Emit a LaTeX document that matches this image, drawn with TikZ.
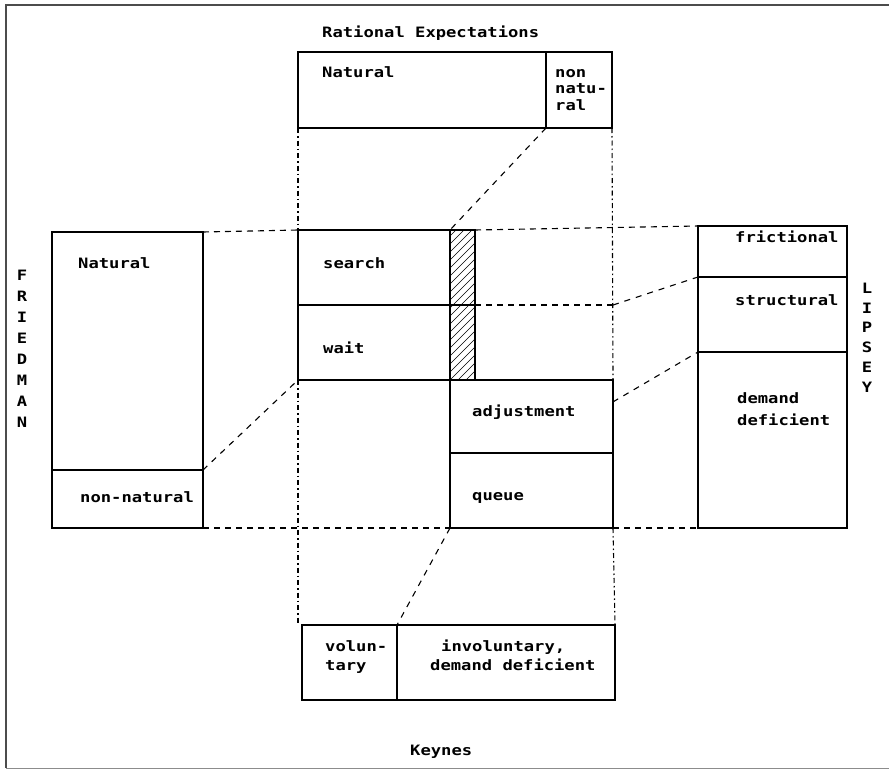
\documentclass[tikz,border=0pt]{standalone}
\usepackage{fontspec}
\usetikzlibrary{calc}
\newfontfamily\tw[FakeStretch=1.2]{DejaVu Sans Mono}
\begin{document}
\begin{tikzpicture}[x=1pt,y=-1pt,
  box/.style={draw,line width=1.3pt,inner sep=0pt,outer sep=0pt,anchor=north west},
  lbl/.style={anchor=base west,inner sep=0pt,font=\tw\bfseries\fontsize{14.3}{16}\selectfont},
  ltr/.style={anchor=center,inner sep=0pt,font=\tw\bfseries\fontsize{14.3}{16}\selectfont},
  hdash/.style={line width=1.1pt,dash pattern=on 6pt off 5pt},
  vdash/.style={line width=1.1pt,dash pattern=on 5pt off 3pt on 1.5pt off 3pt},
  ddash/.style={line width=1.1pt,dash pattern=on 6pt off 6pt},
  frame/.style={line width=1.2pt,draw=black!70}]
\useasboundingbox (0,0) rectangle (889,771);
% frame
\draw[frame] (889,5) -- (6,5) -- (6,768);
\draw[line width=1pt,draw=black!45] (6,768) -- (889,768);
% boxes
\node[box,minimum width=248pt,minimum height=76pt] (reNat) at (298,52) {};
\node[box,minimum width=66pt,minimum height=76pt] (reNon) at (546,52) {};
\node[box,minimum width=152pt,minimum height=75pt] (search) at (298,230) {};
\node[box,minimum width=152pt,minimum height=75pt] (wait) at (298,305) {};
\node[box,minimum width=25pt,minimum height=75pt] (hatchA) at (450,230) {};
\node[box,minimum width=25pt,minimum height=75pt] (hatchB) at (450,305) {};
\node[box,minimum width=163pt,minimum height=73pt] (adj) at (450,380) {};
\node[box,minimum width=163pt,minimum height=75pt] (queue) at (450,453) {};
\node[box,minimum width=151pt,minimum height=238pt] (fNat) at (52,232) {};
\node[box,minimum width=151pt,minimum height=58pt] (fNon) at (52,470) {};
\node[box,minimum width=149pt,minimum height=51pt] (lFric) at (698,226) {};
\node[box,minimum width=149pt,minimum height=75pt] (lStruct) at (698,277) {};
\node[box,minimum width=149pt,minimum height=176pt] (lDem) at (698,352) {};
\node[box,minimum width=95pt,minimum height=75pt] (kVol) at (302,625) {};
\node[box,minimum width=218pt,minimum height=75pt] (kInv) at (397,625) {};
% hatch
\begin{scope}
\clip (hatchA.north west) rectangle (hatchB.south east);
\foreach \k in {0,...,23}
  \draw[line width=0.6pt] (450,{236+8*\k}) -- (475,{211+8*\k});
\end{scope}
% connectors
\coordinate (midR) at (hatchB.north east -| adj.east);
\coordinate (adjR) at ($(adj.north east)!0.3!(adj.south east)$);
\draw[hdash] (fNat.north east) -- (search.north west);
\draw[hdash] (hatchA.north east) -- (lFric.north west);
\draw[hdash] (hatchB.north east) -- (midR);
\draw[ddash] (midR) -- (lStruct.north west);
\draw[ddash] (adjR) -- (lDem.north west);
\draw[hdash] (fNon.south east) -- (queue.south west);
\draw[hdash] (queue.south east) -- (lDem.south west);
\draw[ddash] (fNon.north east) -- (wait.south west);
\draw[ddash] (reNon.south west) -- (hatchA.north west);
\draw[ddash] (queue.south west) -- (kVol.north east);
\draw[vdash] (reNat.south west) -- (search.north west);
\draw[vdash] (wait.south west) -- (wait.south west |- kVol.north);
\draw[vdash] (reNon.south east) -- (adj.north east);
\draw[vdash] (queue.south east) -- (kInv.north east);
% texts
\node[lbl] (tRE) at (322,37) {Rational Expectations};
\node[lbl] (tReNat) at (322,77) {Natural};
\node[lbl] (tNon1) at (555,77) {non};
\node[lbl] (tNon2) at (555,93) {natu-};
\node[lbl] (tNon3) at (555,110) {ral};
\node[lbl] (tSearch) at (323,268) {search};
\node[lbl] (tWait) at (323,353) {wait};
\node[lbl] (tAdj) at (472,416) {adjustment};
\node[lbl] (tQueue) at (472,500) {queue};
\node[lbl] (tFNat) at (78,268) {Natural};
\node[lbl] (tFNon) at (80,502) {non-natural};
\node[lbl] (tFric) at (735,242) {frictional};
\node[lbl] (tStruct) at (735,305) {structural};
\node[lbl] (tDem1) at (737,403) {demand};
\node[lbl] (tDem2) at (737,425) {deficient};
\node[lbl] (tVol1) at (325,651) {volun-};
\node[lbl] (tVol2) at (325,670) {tary};
\node[lbl] (tInv1) at (441,651) {involuntary,};
\node[lbl] (tInv2) at (430,670) {demand deficient};
\node[lbl] (tKeynes) at (410,755) {Keynes};
\foreach \c [count=\i from 0] in {F,R,I,E,D,M,A,N}
  \node[ltr] (fr\i) at (22,{275+21.1*\i}) {\c};
\foreach \c [count=\i from 0] in {L,I,P,S,E,Y}
  \node[ltr] (li\i) at (867,{288+19.8*\i}) {\c};
\end{tikzpicture}
\end{document}
